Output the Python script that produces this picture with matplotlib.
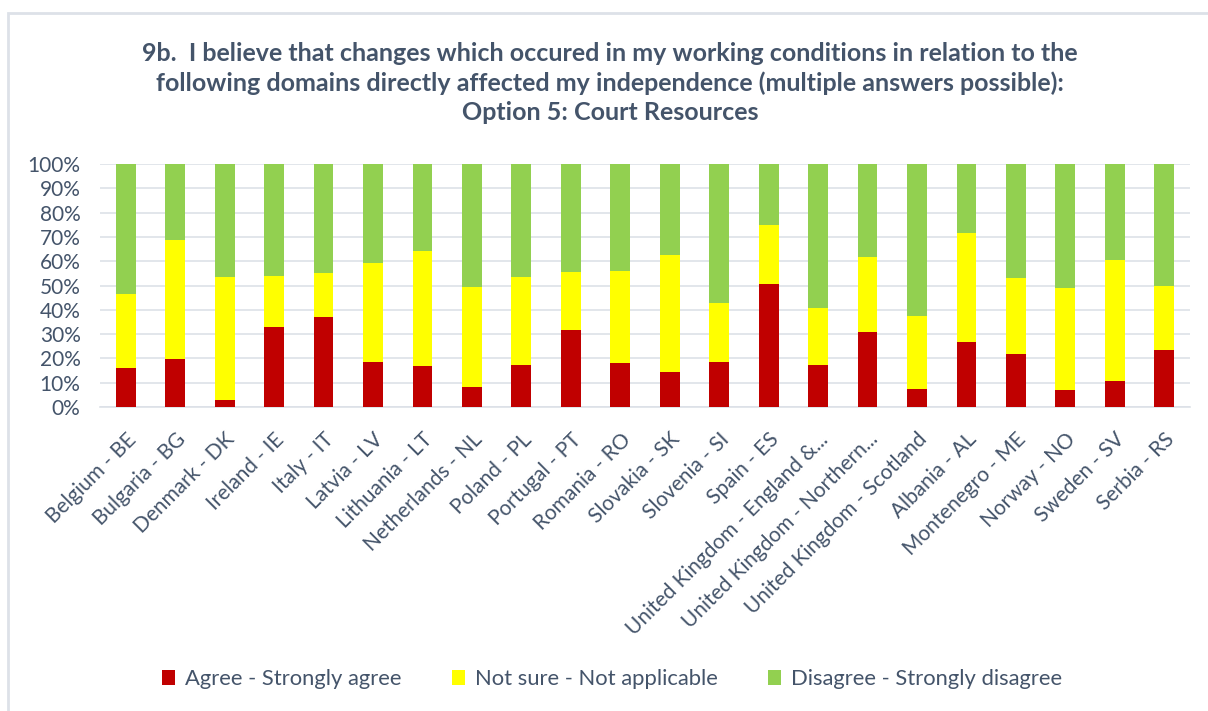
import matplotlib
matplotlib.use("Agg")
import matplotlib.pyplot as plt
from matplotlib.patches import Rectangle

# Countries / jurisdictions on the x axis
categories = [
    "Belgium - BE", "Bulgaria - BG", "Denmark - DK", "Ireland - IE", "Italy - IT",
    "Latvia - LV", "Lithuania - LT", "Netherlands - NL", "Poland - PL", "Portugal - PT",
    "Romania - RO", "Slovakia - SK", "Slovenia - SI", "Spain - ES",
    "United Kingdom - England &...", "United Kingdom - Northern...",
    "United Kingdom - Scotland", "Albania - AL", "Montenegro - ME", "Norway - NO",
    "Sweden - SV", "Serbia - RS",
]

# Share of answers (%) per category
agree = [15.9, 19.6, 2.7, 32.8, 37.1, 18.5, 16.9, 8.1, 17.4, 31.7, 18.0,
         14.4, 18.5, 50.8, 17.4, 30.8, 7.4, 26.6, 21.8, 7.0, 10.7, 23.4]
not_sure = [30.7, 49.2, 50.7, 21.2, 18.0, 40.7, 47.1, 41.1, 36.0, 23.8, 38.0,
            48.0, 24.4, 24.2, 23.3, 31.0, 30.2, 44.8, 31.1, 41.8, 49.6, 26.3]
disagree = [53.4, 31.2, 46.6, 46.0, 44.9, 40.8, 36.0, 50.8, 46.6, 44.5, 44.0,
            37.6, 57.1, 25.0, 59.3, 38.2, 62.4, 28.6, 47.1, 51.2, 39.7, 50.3]

series_labels = ["Agree - Strongly agree", "Not sure - Not applicable",
                 "Disagree - Strongly disagree"]
colors = ["#C00000", "#FFFF00", "#92D050"]

y_ticks = list(range(0, 101, 10))
y_tick_labels = [f"{v}%" for v in y_ticks]

title = ("9b.  I believe that changes which occured in my working conditions in relation to the\n"
         "following domains directly affected my independence (multiple answers possible):\n"
         "Option 5: Court Resources")

TEXT = "#44546A"
GRID = "#DDE1E8"
W, H = 1208, 711

plt.rcParams["font.family"] = ["Lato", "DejaVu Sans"]

fig = plt.figure(figsize=(W / 100, H / 100), dpi=100)
fig.patch.set_facecolor("white")

# chart frame (left and top edges visible)
fig.add_artist(Rectangle((8 / W, -0.05), 1.1, (H - 13) / H + 0.05,
                         transform=fig.transFigure, fill=False,
                         edgecolor=GRID, linewidth=2))

ax = fig.add_axes([100 / W, (H - 407) / H, 1090 / W, 243 / H])

x = list(range(len(categories)))
bottoms2 = [a + b for a, b in zip(agree, not_sure)]
bar_w = 0.4
ax.bar(x, agree, width=bar_w, color=colors[0], label=series_labels[0], zorder=3)
ax.bar(x, not_sure, width=bar_w, bottom=agree, color=colors[1],
       label=series_labels[1], zorder=3)
ax.bar(x, disagree, width=bar_w, bottom=bottoms2, color=colors[2],
       label=series_labels[2], zorder=3)

ax.set_xlim(-0.52, len(categories) - 0.48)
ax.set_ylim(0, 100)
ax.set_yticks(y_ticks)
ax.set_yticklabels(y_tick_labels)
ax.yaxis.grid(True, color=GRID, linewidth=1.2, zorder=0)
ax.set_axisbelow(True)
for s in ["left", "right", "top"]:
    ax.spines[s].set_visible(False)
ax.spines["bottom"].set_color(GRID)
ax.spines["bottom"].set_linewidth(1.2)

ax.tick_params(axis="y", length=0, pad=14, labelsize=15, labelcolor=TEXT)
ax.tick_params(axis="x", length=0, pad=16, labelsize=15, labelcolor=TEXT)
ax.set_xticks(x)
ax.set_xticklabels(categories, rotation=45, ha="right", rotation_mode="anchor")

fig.text(0.505, (H - 83) / H, title, ha="center", va="center", fontsize=18,
         fontweight="bold", color=TEXT, linespacing=1.3)

fig.legend(loc="center", bbox_to_anchor=(612 / W, (H - 679) / H), ncol=3,
           frameon=False, fontsize=15.8, labelcolor=TEXT, handlelength=0.6,
           handleheight=0.7, handletextpad=0.45, columnspacing=2.3)

fig.savefig("out.png", dpi=100)
